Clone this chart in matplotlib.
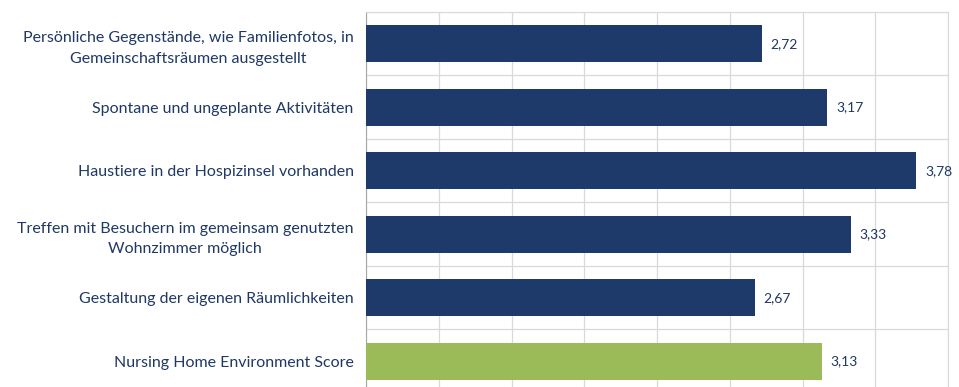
import matplotlib.pyplot as plt
import numpy as np
from matplotlib.ticker import MultipleLocator, FixedLocator

# Kategorien (von oben nach unten) und Mittelwerte
kategorien = [
    'Persönliche Gegenstände, wie Familienfotos, in\nGemeinschaftsräumen ausgestellt',
    'Spontane und ungeplante Aktivitäten',
    'Haustiere in der Hospizinsel vorhanden',
    'Treffen mit Besuchern im gemeinsam genutzten\nWohnzimmer möglich',
    'Gestaltung der eigenen Räumlichkeiten',
    'Nursing Home Environment Score',
]
werte = [2.72, 3.17, 3.78, 3.33, 2.67, 3.13]
farben = ['#1D3A6A'] * 5 + ['#9BBB59']

text_farbe = '#1F3864'

plt.rcParams['font.family'] = ['Lato', 'DejaVu Sans']

fig = plt.figure(figsize=(9.59, 3.87), dpi=100)
ax = fig.add_axes([0.3817, -0.0155, 0.607, 0.9845])

y = np.arange(len(kategorien))
ax.barh(y, werte, height=0.58, color=farben, zorder=3)

ax.set_xlim(0, 4)
ax.set_ylim(len(kategorien) - 0.5, -0.5)

# Gitternetz: vertikal alle 0,5, horizontal zwischen den Kategorien
ax.xaxis.set_major_locator(MultipleLocator(0.5))
ax.yaxis.set_minor_locator(FixedLocator(np.arange(-0.5, len(kategorien), 1.0)))
ax.grid(axis='x', which='major', color='#D9D9D9', linewidth=0.9, zorder=0)
ax.grid(axis='y', which='minor', color='#D9D9D9', linewidth=0.9, zorder=0)
ax.tick_params(axis='x', length=0, labelbottom=False)
ax.tick_params(axis='y', which='both', length=0)

ax.set_yticks(y)
ax.set_yticklabels(kategorien, fontsize=11.5, color=text_farbe,
                   multialignment='center', linespacing=1.6)
ax.tick_params(axis='y', pad=9)

for s in ['top', 'right', 'bottom']:
    ax.spines[s].set_color('#D9D9D9')
ax.spines['left'].set_color('#A6A6A6')

# Wertbeschriftungen mit Dezimalkomma
for yi, w in zip(y, werte):
    ax.text(w + 0.06, yi, f'{w:.2f}'.replace('.', ','), va='center', ha='left',
            fontsize=10, color=text_farbe, clip_on=False, zorder=4)

fig.savefig('out.png', dpi=100)
